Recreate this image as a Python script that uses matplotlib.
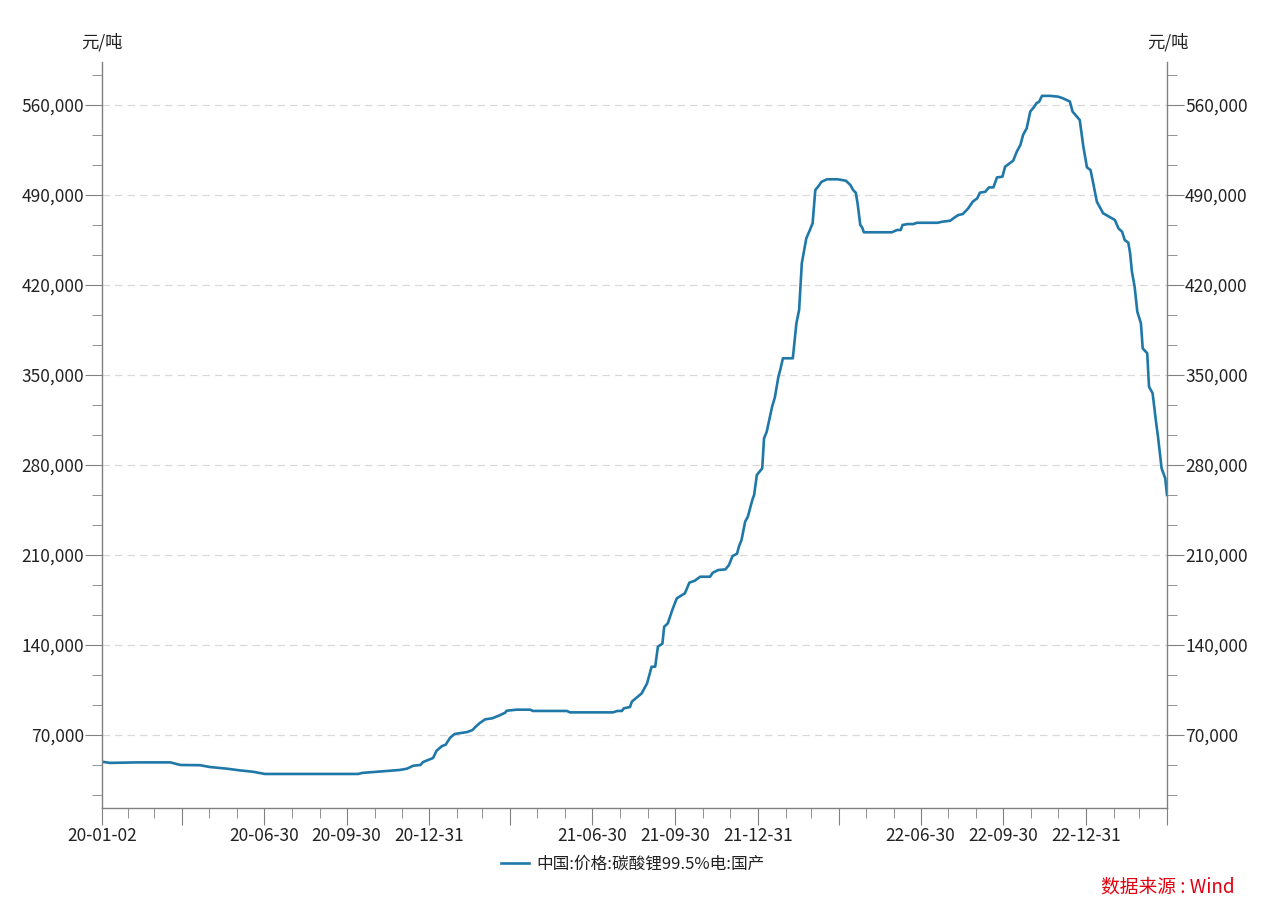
import matplotlib
matplotlib.use('Agg')
import matplotlib.pyplot as plt
import matplotlib.ticker as mticker
import numpy as np
import pandas as pd

plt.rcParams['font.family'] = ['Noto Sans CJK SC', 'DejaVu Sans']

# 中国:价格:碳酸锂99.5%电:国产 (元/吨), values
dates = [
    '2020-01-02', '2020-01-11', '2020-02-10', '2020-03-18', '2020-03-29', '2020-04-20',
    '2020-05-01', '2020-05-20', '2020-06-03', '2020-06-18', '2020-07-01', '2020-10-13',
    '2020-10-17', '2020-11-03', '2020-11-14', '2020-11-28', '2020-12-06', '2020-12-13',
    '2020-12-21', '2020-12-24', '2021-01-04', '2021-01-08', '2021-01-14', '2021-01-18',
    '2021-01-23', '2021-01-28', '2021-02-11', '2021-02-17', '2021-02-20', '2021-02-25',
    '2021-03-03', '2021-03-11', '2021-03-19', '2021-03-25', '2021-03-27', '2021-04-07',
    '2021-04-22', '2021-04-25', '2021-06-02', '2021-06-05', '2021-07-23', '2021-07-28',
    '2021-08-02', '2021-08-04', '2021-08-11', '2021-08-13', '2021-08-24', '2021-08-30',
    '2021-09-04', '2021-09-08', '2021-09-11', '2021-09-16', '2021-09-18', '2021-09-22',
    '2021-09-27', '2021-10-02', '2021-10-11', '2021-10-16', '2021-10-22', '2021-10-28',
    '2021-11-08', '2021-11-11', '2021-11-17', '2021-11-25', '2021-11-29', '2021-12-03',
    '2021-12-08', '2021-12-10', '2021-12-13', '2021-12-17', '2021-12-20', '2021-12-25',
    '2021-12-27', '2021-12-30', '2022-01-05', '2022-01-07', '2022-01-10', '2022-01-16',
    '2022-01-19', '2022-01-23', '2022-01-25', '2022-01-28', '2022-02-08', '2022-02-12',
    '2022-02-15', '2022-02-18', '2022-02-20', '2022-02-23', '2022-02-27', '2022-03-02',
    '2022-03-05', '2022-03-08', '2022-03-12', '2022-03-18', '2022-03-30', '2022-04-08',
    '2022-04-13', '2022-04-16', '2022-04-19', '2022-04-21', '2022-04-24', '2022-04-26',
    '2022-04-28', '2022-05-29', '2022-06-04', '2022-06-08', '2022-06-10', '2022-06-16',
    '2022-06-22', '2022-06-26', '2022-07-19', '2022-07-24', '2022-08-02', '2022-08-07',
    '2022-08-11', '2022-08-16', '2022-08-22', '2022-08-27', '2022-09-01', '2022-09-04',
    '2022-09-10', '2022-09-14', '2022-09-19', '2022-09-23', '2022-09-29', '2022-10-02',
    '2022-10-07', '2022-10-11', '2022-10-15', '2022-10-19', '2022-10-22', '2022-10-26',
    '2022-10-30', '2022-11-03', '2022-11-06', '2022-11-09', '2022-11-12', '2022-11-21',
    '2022-11-30', '2022-12-05', '2022-12-13', '2022-12-16', '2022-12-24', '2022-12-28',
    '2023-01-01', '2023-01-05', '2023-01-08', '2023-01-12', '2023-01-19', '2023-02-01',
    '2023-02-05', '2023-02-09', '2023-02-12', '2023-02-16', '2023-02-18', '2023-02-20',
    '2023-02-23', '2023-02-26', '2023-03-02', '2023-03-04', '2023-03-09', '2023-03-11',
    '2023-03-15', '2023-03-19', '2023-03-21', '2023-03-25', '2023-03-29', '2023-03-31',
]
prices = [
    49200, 48300, 48700, 48700, 46700, 46500,
    45100, 43800, 42500, 41400, 39700, 39700,
    40500, 41400, 42000, 42800, 43800, 46100,
    46700, 49000, 52100, 57800, 61400, 62400,
    67900, 70800, 72300, 73900, 76200, 79300,
    82200, 83000, 85300, 87300, 88900, 89700,
    89700, 88700, 88700, 87600, 87600, 88700,
    88700, 90700, 91800, 95900, 102400, 110200,
    123100, 123100, 138700, 141000, 154200, 156800,
    167200, 176300, 180200, 188500, 190000, 193100,
    193100, 196200, 198300, 198800, 202200, 209200,
    211000, 216400, 221700, 235900, 239800, 252800,
    256700, 272200, 277400, 300800, 305900, 325400,
    332500, 348700, 353900, 363000, 363000, 390200,
    400600, 436900, 444600, 456300, 462800, 468000,
    493900, 496400, 500300, 502200, 502200, 501100,
    497800, 493900, 491800, 483500, 466700, 464900,
    461000, 461000, 462800, 462800, 466700, 467400,
    467400, 468400, 468400, 469200, 470000, 472600,
    474400, 475200, 479600, 484800, 487400, 491800,
    492500, 495900, 495900, 503700, 504200, 512000,
    514600, 516700, 523700, 528900, 536700, 541900,
    554900, 558300, 561400, 562700, 567100, 567100,
    566500, 565300, 562700, 554900, 548300, 527600,
    511500, 509400, 499100, 484800, 475800, 470600,
    464100, 461500, 455000, 452900, 444600, 430400,
    418700, 399200, 390200, 370700, 366900, 340900,
    335800, 312400, 302000, 277400, 269700, 256700,
]

y_major = [70000, 140000, 210000, 280000, 350000, 420000, 490000, 560000]
x_labels = {'2020-01-02': '20-01-02', '2020-06-30': '20-06-30', '2020-09-30': '20-09-30',
            '2020-12-31': '20-12-31', '2021-06-30': '21-06-30', '2021-09-30': '21-09-30',
            '2021-12-31': '21-12-31', '2022-06-30': '22-06-30', '2022-09-30': '22-09-30',
            '2022-12-31': '22-12-31'}

x = pd.to_datetime(dates)
start, end = pd.Timestamp('2020-01-02'), pd.Timestamp('2023-03-31')

W, H = 1269, 910
fig = plt.figure(figsize=(W / 100, H / 100), dpi=100)
ax = fig.add_axes([102 / W, 1 - 808 / H, (1167 - 102) / W, (808 - 62) / H])

line_color = '#1f78a8'
axis_color = '#808080'
text_color = '#222222'

ax.plot(x, prices, color=line_color, lw=1.9, label='中国:价格:碳酸锂99.5%电:国产')

ax.set_xlim(start, end)
ax.set_ylim(13222, 593444)

# y axis, mirrored on both sides
ax.yaxis.set_major_locator(mticker.FixedLocator(y_major))
ax.yaxis.set_minor_locator(mticker.FixedLocator(
    [v for v in np.arange(1, 26) * 70000 / 3 if round(v) % 70000 != 0]))
ax.yaxis.set_major_formatter(mticker.FuncFormatter(lambda v, p: f'{int(round(v)):,}'))
ax.tick_params(axis='y', which='both', left=True, right=True, labelleft=True,
               labelright=True, direction='out', color=axis_color, labelcolor=text_color,
               labelsize=12.5, pad=1)
ax.tick_params(axis='y', which='major', length=12)
ax.tick_params(axis='y', which='minor', length=7)

# x axis: quarter ends long ticks, month ends short ticks
q_ends = pd.date_range('2020-03-31', '2023-03-31', freq='QE')
major_x = [start] + list(q_ends)
major_lbl = [x_labels.get(d.strftime('%Y-%m-%d'), '') for d in major_x]
m_ends = [d for d in pd.date_range('2020-01-31', '2023-03-31', freq='ME') if d not in set(q_ends)]
ax.set_xticks(major_x)
ax.set_xticklabels(major_lbl)
ax.set_xticks(m_ends, minor=True)
ax.tick_params(axis='x', which='both', direction='out', color=axis_color,
               labelcolor=text_color, labelsize=12.5, pad=2)
ax.tick_params(axis='x', which='major', length=12)
ax.tick_params(axis='x', which='minor', length=7)

ax.grid(axis='y', which='major', color='#d9d9d9', ls=(0, (6, 4)), lw=0.9)
ax.set_axisbelow(True)

ax.spines['top'].set_visible(False)
for s in ['left', 'right', 'bottom']:
    ax.spines[s].set_color(axis_color)
    ax.spines[s].set_linewidth(1.0)

fig.text(102 / W, 1 - 42 / H, '元/吨', ha='center', va='center', fontsize=12.5, color=text_color)
fig.text(1168 / W, 1 - 42 / H, '元/吨', ha='center', va='center', fontsize=12.5, color=text_color)

fig.legend(loc='center', bbox_to_anchor=(633 / W, 1 - 864 / H), frameon=False,
           fontsize=12, handlelength=1.7, handletextpad=0.45, labelcolor=text_color)

fig.text(1235 / W, 1 - 887 / H, '数据来源 : Wind', ha='right', va='center',
         fontsize=13.5, color='#e3000f')

fig.savefig('out.png', dpi=100)
